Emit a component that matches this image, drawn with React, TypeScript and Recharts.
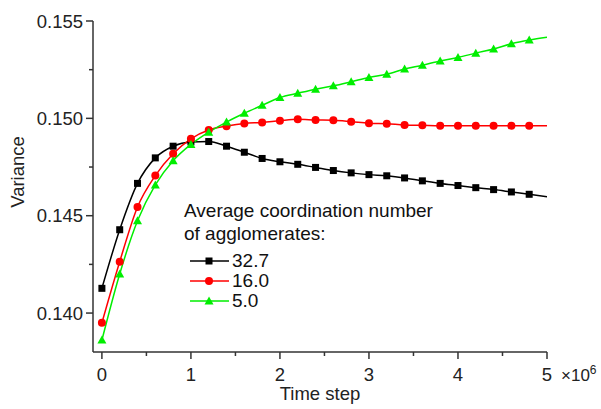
import React from "react";
import { LineChart, Line, XAxis, YAxis, Legend } from "recharts";

// time step, in units of 10^6
const timeSteps = [
  0, 0.2, 0.4, 0.6, 0.8, 1.0, 1.2, 1.4, 1.6, 1.8, 2.0, 2.2, 2.4, 2.6, 2.8, 3.0,
  3.2, 3.4, 3.6, 3.8, 4.0, 4.2, 4.4, 4.6, 4.8, 5.0,
];

const coord327 = [
  0.14127, 0.14428, 0.14666, 0.14797, 0.14857, 0.14879, 0.14881, 0.14857,
  0.14826, 0.14794, 0.14777, 0.14764, 0.14748, 0.14732, 0.1472, 0.14711,
  0.14705, 0.14694, 0.14679, 0.14666, 0.14655, 0.14644, 0.14634, 0.14622,
  0.1461, 0.14597,
];

const coord160 = [
  0.1395, 0.14264, 0.14545, 0.14706, 0.14818, 0.14895, 0.1494, 0.1496,
  0.14974, 0.14979, 0.14988, 0.14995, 0.14992, 0.1499, 0.14983, 0.14975,
  0.14972, 0.14966, 0.14964, 0.14962, 0.14962, 0.14962, 0.14962, 0.14962,
  0.14962, 0.14962,
];

const coord50 = [
  0.13861, 0.14201, 0.14474, 0.14658, 0.14782, 0.14866, 0.14929, 0.14981,
  0.15026, 0.15067, 0.15107, 0.15129, 0.1515, 0.15167, 0.15188, 0.1521,
  0.15227, 0.15253, 0.15273, 0.15295, 0.15313, 0.15335, 0.15356, 0.15383,
  0.15402, 0.15416,
];

const xTicks = [0, 0.5, 1, 1.5, 2, 2.5, 3, 3.5, 4, 4.5, 5];
const yTicks = [0.14, 0.1425, 0.145, 0.1475, 0.15, 0.1525, 0.155];

const series = [
  { key: "c327", name: "32.7", color: "#000000", shape: "square" },
  { key: "c160", name: "16.0", color: "#ff0000", shape: "circle" },
  { key: "c50", name: "5.0", color: "#00ee00", shape: "triangle" },
];

const data = timeSteps.map((t, i) => ({
  t,
  c327: coord327[i],
  c160: coord160[i],
  c50: coord50[i],
}));

const FONT = "'Liberation Sans', Arial, sans-serif";
const AXIS = "#333";

const Marker = ({ shape, color, cx, cy }: any) => {
  if (shape === "square")
    return <rect x={cx - 3.5} y={cy - 3.5} width={7} height={7} fill={color} />;
  if (shape === "circle") return <circle cx={cx} cy={cy} r={4} fill={color} />;
  return (
    <polygon
      points={`${cx},${cy - 4.5} ${cx - 4.5},${cy + 3.5} ${cx + 4.5},${cy + 3.5}`}
      fill={color}
    />
  );
};

const makeDot = (shape: string, color: string) => (props: any) => {
  const { cx, cy, payload, index } = props;
  // last point (t = 5) carries no symbol
  if (payload.t >= 5) return <g key={`d-${index}`} />;
  return <Marker key={`d-${index}`} shape={shape} color={color} cx={cx} cy={cy} />;
};

const isMajorX = (v: number) => Math.abs(v - Math.round(v)) < 1e-9;
const isMajorY = (v: number) => Math.abs(v * 200 - Math.round(v * 200)) < 1e-6;

const XTick = (props: any) => {
  const { x, y, payload } = props;
  const major = isMajorX(payload.value);
  return (
    <g>
      <line x1={x} y1={y} x2={x} y2={y + (major ? 7 : 4)} stroke={AXIS} strokeWidth={1.5} />
      {major && (
        <text x={x} y={y + 29} textAnchor="middle" fontSize={18.5} fill="#222" fontFamily={FONT}>
          {payload.value}
        </text>
      )}
      {payload.value === 5 && (
        <text x={x + 14} y={y + 29} fontSize={17} fill="#222" fontFamily={FONT}>
          ×10
          <tspan dy={-7} fontSize={12}>6</tspan>
        </text>
      )}
    </g>
  );
};

const YTick = (props: any) => {
  const { x, y, payload } = props;
  const major = isMajorY(payload.value);
  return (
    <g>
      <line x1={x - (major ? 7 : 4)} y1={y} x2={x} y2={y} stroke={AXIS} strokeWidth={1.5} />
      {major && (
        <text x={x - 10} y={y + 6.5} textAnchor="end" fontSize={18.5} fill="#222" fontFamily={FONT}>
          {payload.value.toFixed(3)}
        </text>
      )}
    </g>
  );
};

const LegendBox = () => (
  <div style={{ fontFamily: FONT, fontSize: 19, color: "#111", lineHeight: "23px" }}>
    <div>Average coordination number</div>
    <div>of agglomerates:</div>
    <div style={{ marginTop: 6 }}>
      {series.map((s) => (
        <div key={s.key} style={{ display: "flex", alignItems: "center", height: 20, lineHeight: "20px" }}>
          <svg width={48} height={20} style={{ display: "block" }}>
            <line x1={6} y1={10} x2={45} y2={10} stroke={s.color} strokeWidth={1.5} />
            <Marker shape={s.shape} color={s.color} cx={25} cy={10} />
          </svg>
          <span>{s.name}</span>
        </div>
      ))}
    </div>
  </div>
);

export default function App() {
  return (
    <div style={{ position: "absolute", left: 0, top: 0, background: "#fff" }}>
      <LineChart
        width={601}
        height={409}
        data={data}
        margin={{ top: 21, right: 54, bottom: 27, left: 0 }}
      >
        <XAxis
          dataKey="t"
          type="number"
          domain={[-0.1, 5]}
          allowDataOverflow
          ticks={xTicks}
          interval={0}
          tickSize={0}
          tickMargin={0}
          tickLine={false}
          tick={<XTick />}
          axisLine={{ stroke: AXIS, strokeWidth: 1.5 }}
          height={30}
          label={(p: any) => (
            <text
              x={p.viewBox.x + p.viewBox.width / 2}
              y={p.viewBox.y + 48}
              textAnchor="middle"
              fontSize={18.5}
              fill="#222"
              fontFamily={FONT}
            >
              Time step
            </text>
          )}
        />
        <YAxis
          type="number"
          domain={[0.138, 0.155]}
          allowDataOverflow
          ticks={yTicks}
          interval={0}
          tickSize={0}
          tickMargin={0}
          tickLine={false}
          tick={<YTick />}
          axisLine={{ stroke: AXIS, strokeWidth: 1.5 }}
          width={93}
          label={() => (
            <text
              x={24}
              y={172}
              transform="rotate(-90 24 172)"
              textAnchor="middle"
              fontSize={18.5}
              fill="#222"
              fontFamily={FONT}
            >
              Variance
            </text>
          )}
        />
        <Legend
          layout="vertical"
          align="center"
          verticalAlign="middle"
          content={<LegendBox />}
          wrapperStyle={{ left: 184, top: 199, width: 270, height: 120 }}
        />
        {series.map((s) => (
          <Line
            key={s.key}
            dataKey={s.key}
            name={s.name}
            type="monotone"
            stroke={s.color}
            strokeWidth={1.5}
            dot={makeDot(s.shape, s.color)}
            activeDot={false}
            isAnimationActive={false}
          />
        ))}
      </LineChart>
    </div>
  );
}
